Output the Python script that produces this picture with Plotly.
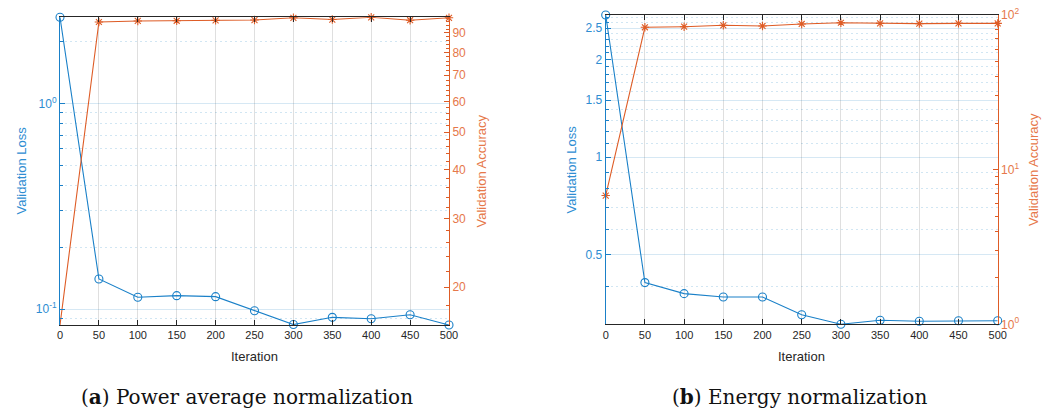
import numpy as np
import plotly.graph_objects as go

# ---- data -------------------------------------------------------------
iterations = [0, 50, 100, 150, 200, 250, 300, 350, 400, 450, 500]

# (a) power average normalization
loss_power = [2.62, 0.140, 0.1140, 0.1161, 0.1148, 0.0981, 0.0840, 0.0911, 0.0897, 0.0938, 0.0836]
acc_power = [16.0, 95.9, 96.5, 96.6, 96.8, 97.0, 98.3, 97.3, 98.6, 96.9, 98.3]

# (b) energy normalization
loss_energy = [2.745, 0.411, 0.380, 0.371, 0.371, 0.327, 0.3057, 0.3146, 0.3123, 0.3134, 0.3134]
acc_energy = [6.8, 83.3, 84.0, 85.8, 84.9, 87.5, 89.1, 88.3, 88.0, 88.3, 88.3]

x_ticks = [0, 50, 100, 150, 200, 250, 300, 350, 400, 450, 500]

loss_power_ticks = [0.1, 1]
loss_power_ticktext = ["10<sup>-1</sup>", "10<sup>0</sup>"]
loss_power_minor = [0.09, 0.2, 0.3, 0.4, 0.5, 0.6, 0.7, 0.8, 0.9, 2]
acc_power_ticks = [20, 30, 40, 50, 60, 70, 80, 90]
acc_power_minor = [18, 22, 24, 26, 28, 32, 34, 36, 38, 42, 44, 46, 48, 52, 54, 56, 58,
                   62, 64, 66, 68, 72, 74, 76, 78, 82, 84, 86, 88, 92, 94, 96, 98]

loss_energy_ticks = [0.5, 1, 1.5, 2, 2.5]
loss_energy_ticktext = ["0.5", "1", "1.5", "2", "2.5"]
loss_energy_minor = [0.4, 0.6, 0.7, 0.8, 0.9, 1.1, 1.2, 1.3, 1.4, 1.6, 1.7, 1.8, 1.9,
                     2.1, 2.2, 2.3, 2.4, 2.6, 2.7]
acc_energy_ticks = [1, 10, 100]
acc_energy_ticktext = ["10<sup>0</sup>", "10<sup>1</sup>", "10<sup>2</sup>"]
acc_energy_minor = [2, 3, 4, 5, 6, 7, 8, 9, 20, 30, 40, 50, 60, 70, 80, 90]

# ---- styling ----------------------------------------------------------
W, H = 1052, 411
BLUE = "#1a80c8"
BLUE_TXT = "#2e8dd2"
ORANGE = "#de5c26"
ORANGE_TXT = "#e6784a"
DARK = "#262626"
SANS = "Liberation Sans, Arial, sans-serif"
SERIF = "DejaVu Serif, serif"


def px_x(p):
    """pixel x -> paper fraction"""
    return p / W


def px_y(p):
    """pixel y (from top) -> paper fraction"""
    return 1 - p / H


def log_range(vals):
    return [float(np.log10(min(vals))), float(np.log10(max(vals)))]


fig = go.Figure()

panels = [
    dict(x="x", yl="y", yr="y2", loss=loss_power, acc=acc_power),
    dict(x="x2", yl="y3", yr="y4", loss=loss_energy, acc=acc_energy),
]
for p in panels:
    fig.add_trace(go.Scatter(
        x=iterations, y=p["loss"], xaxis=p["x"], yaxis=p["yl"], mode="lines+markers",
        line=dict(color=BLUE, width=1.1),
        marker=dict(symbol="circle-open", size=8, color=BLUE, line=dict(width=1.1)),
        cliponaxis=False, showlegend=False))
    fig.add_trace(go.Scatter(
        x=iterations, y=p["acc"], xaxis=p["x"], yaxis=p["yr"], mode="lines+markers",
        line=dict(color=ORANGE, width=1.1),
        marker=dict(symbol="asterisk-open", size=7, color=ORANGE, line=dict(width=1.1, color=ORANGE)),
        cliponaxis=False, showlegend=False))

tick_font = dict(family=SANS, size=11, color=DARK)
x_common = dict(
    range=[0, 500], tickvals=x_ticks, ticks="inside", ticklen=5, tickcolor=DARK,
    showline=True, linecolor=DARK, linewidth=1, mirror="ticks",
    showgrid=True, gridcolor="rgba(38,38,38,0.15)", gridwidth=1,
    zeroline=False, tickfont=tick_font, automargin=False,
)
ygrid_major = "rgba(0,114,189,0.16)"
ygrid_minor = "rgba(0,114,189,0.18)"
MINOR_DASH = "2px,3px"

# panel (a)
dom_a = [px_y(325), px_y(17.3)]
fig.update_layout(
    xaxis=dict(domain=[px_x(60), px_x(449)], anchor="y", **x_common),
    yaxis=dict(
        domain=dom_a, anchor="x", type="log", range=log_range(loss_power),
        tickvals=loss_power_ticks, ticktext=loss_power_ticktext,
        ticks="inside", ticklen=5, tickcolor=BLUE, automargin=False,
        showline=True, linecolor=BLUE, linewidth=1, mirror=False,
        showgrid=True, gridcolor=ygrid_major, gridwidth=1, zeroline=False,
        tickfont=dict(family=SANS, size=12, color=BLUE_TXT),
        minor=dict(tickvals=loss_power_minor, ticks="inside", ticklen=3, tickcolor=BLUE,
                   showgrid=True, gridcolor=ygrid_minor, griddash=MINOR_DASH, gridwidth=1),
    ),
    yaxis2=dict(
        overlaying="y", anchor="x", side="right", type="log", range=log_range(acc_power),
        tickvals=acc_power_ticks, ticks="inside", ticklen=5, tickcolor=ORANGE, automargin=False,
        showline=True, linecolor=ORANGE, linewidth=1, showgrid=False, zeroline=False,
        tickfont=dict(family=SANS, size=12, color=ORANGE_TXT),
        minor=dict(tickvals=acc_power_minor, ticks="inside", ticklen=3, tickcolor=ORANGE,
                   showgrid=False),
    ),
)

# panel (b)
dom_b = [px_y(324.3), px_y(15)]
fig.update_layout(
    xaxis2=dict(domain=[px_x(605.7), px_x(997.7)], anchor="y3", **x_common),
    yaxis3=dict(
        domain=dom_b, anchor="x2", type="log", range=log_range(loss_energy),
        tickvals=loss_energy_ticks, ticktext=loss_energy_ticktext,
        ticks="inside", ticklen=5, tickcolor=BLUE, automargin=False,
        showline=True, linecolor=BLUE, linewidth=1, mirror=False,
        showgrid=True, gridcolor=ygrid_major, gridwidth=1, zeroline=False,
        tickfont=dict(family=SANS, size=12, color=BLUE_TXT),
        minor=dict(tickvals=loss_energy_minor, ticks="inside", ticklen=3, tickcolor=BLUE,
                   showgrid=True, gridcolor=ygrid_minor, griddash=MINOR_DASH, gridwidth=1),
    ),
    yaxis4=dict(
        overlaying="y3", anchor="x2", side="right", type="log", range=[0, 2],
        tickvals=acc_energy_ticks, ticktext=acc_energy_ticktext,
        ticks="inside", ticklen=5, tickcolor=ORANGE, automargin=False,
        showline=True, linecolor=ORANGE, linewidth=1, showgrid=False, zeroline=False,
        tickfont=dict(family=SANS, size=12, color=ORANGE_TXT),
        minor=dict(tickvals=acc_energy_minor, ticks="inside", ticklen=3, tickcolor=ORANGE,
                   showgrid=False),
    ),
)

title_font = dict(family=SANS, size=13)
annotations = [
    dict(text="Iteration", x=px_x(254.5), y=px_y(356), font=dict(color=DARK, **title_font)),
    dict(text="Iteration", x=px_x(801.7), y=px_y(356), font=dict(color=DARK, **title_font)),
    dict(text="Validation Loss", x=px_x(20.5), y=px_y(171), textangle=-90,
         font=dict(color=BLUE_TXT, **title_font)),
    dict(text="Validation Accuracy", x=px_x(480.5), y=px_y(171), textangle=-90,
         font=dict(color=ORANGE_TXT, **title_font)),
    dict(text="Validation Loss", x=px_x(571.5), y=px_y(170), textangle=-90,
         font=dict(color=BLUE_TXT, **title_font)),
    dict(text="Validation Accuracy", x=px_x(1034), y=px_y(170), textangle=-90,
         font=dict(color=ORANGE_TXT, **title_font)),
    dict(text="(<b>a</b>) Power average normalization", x=px_x(246.5), y=px_y(397),
         font=dict(family=SERIF, size=20, color="#111111")),
    dict(text="(<b>b</b>) Energy normalization", x=px_x(799), y=px_y(397),
         font=dict(family=SERIF, size=20, color="#111111")),
]
for a in annotations:
    a.update(xref="paper", yref="paper", showarrow=False, xanchor="center", yanchor="middle")

fig.update_layout(
    width=W, height=H, margin=dict(l=0, r=0, t=0, b=0),
    paper_bgcolor="white", plot_bgcolor="white",
    annotations=annotations, showlegend=False,
)

fig.write_html("out.html")
